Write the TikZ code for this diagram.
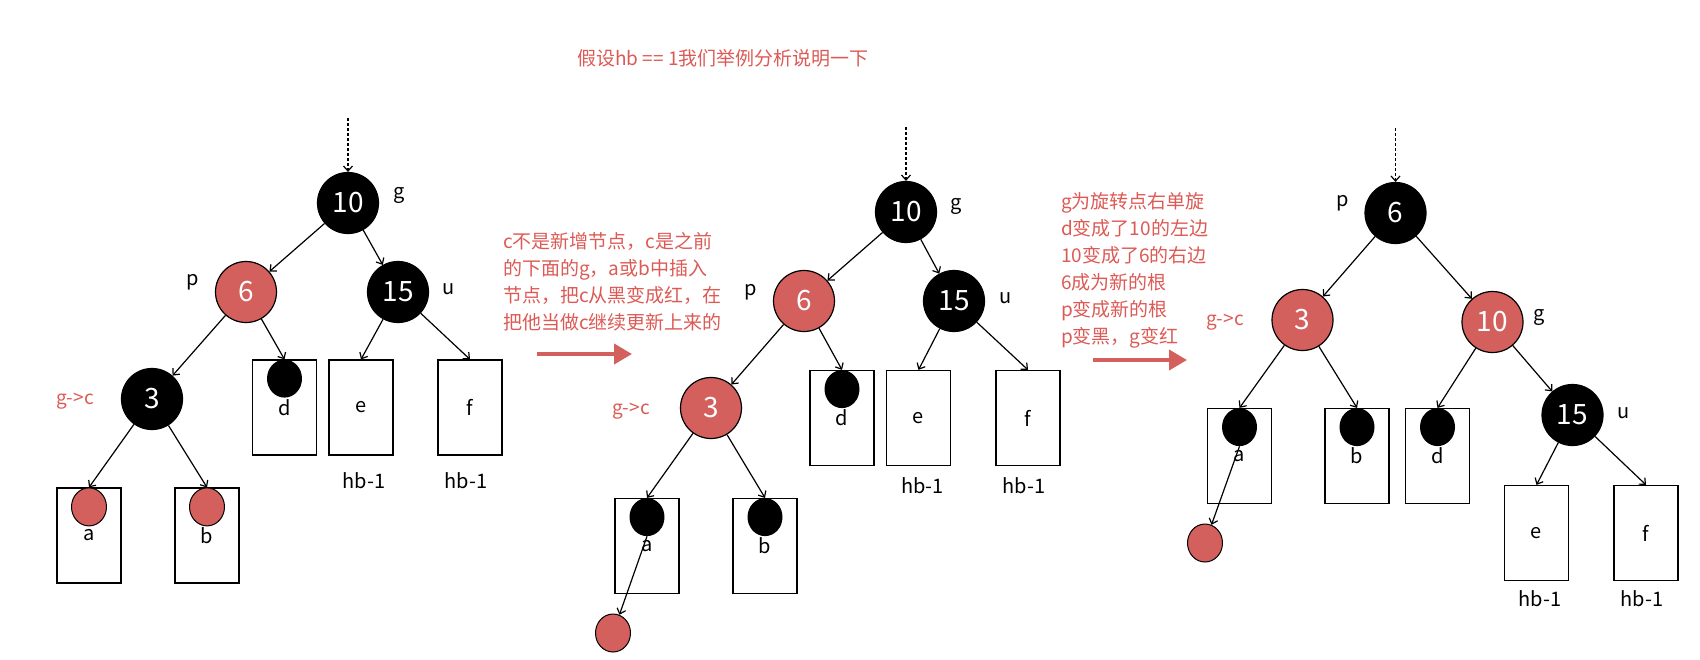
\documentclass[tikz,border=0pt]{standalone}
\usepackage{fontspec}
\setmainfont{Noto Sans CJK SC}
\usepackage{tikz}
\usetikzlibrary{calc,arrows.meta,positioning,shapes.geometric}
\definecolor{rbred}{HTML}{D4605E}
\definecolor{txtred}{HTML}{DC5A55}
\tikzset{
  ar/.style={-{Straight Barb[length=5pt,width=9pt]},line width=1.2pt},
  entry/.style={ar,dash pattern=on 2.5pt off 2.5pt},
  bnode/.style={circle,draw=black,line width=1.2pt,fill=black,text=white,minimum size=61pt,inner sep=0pt,font=\fontsize{28}{28}\selectfont},
  rnode/.style={bnode,fill=rbred},
  leaf/.style={draw,line width=1.2pt,minimum width=64pt,minimum height=95pt,inner sep=0pt,font=\fontsize{20}{20}\selectfont},
  bdot/.style={ellipse,fill=black,minimum width=35pt,minimum height=38pt,inner sep=0pt,anchor=north},
  rdot/.style={ellipse,draw,line width=1pt,fill=rbred,minimum width=35pt,minimum height=38pt,inner sep=0pt},
  tag/.style={font=\fontsize{20}{20}\selectfont},
  redtag/.style={tag,text=txtred,font=\fontsize{19}{19}\selectfont},
  note/.style={text=txtred,font=\fontsize{19}{27}\selectfont,align=left,anchor=north west,inner sep=0pt},
  big/.style={-{Triangle[length=18pt,width=20pt]},line width=4pt,rbred}
}
\begin{document}
\begin{tikzpicture}[x=1pt,y=-1pt]
\useasboundingbox (0,0) rectangle (1700,659);
\node[text=txtred,font=\fontsize{19}{19}\selectfont] (title) at (723,58) {假设hb == 1我们举例分析说明一下};

% before
\coordinate (top1) at (348,118);
\node[bnode] (g1) at (348,203) {10};
\node[rnode] (p1) at (246,292) {6};
\node[bnode] (u1) at (398,292) {15};
\node[bnode] (c1) at (152,399) {3};
\node[leaf] (ld1) at (284.5,407.5) {d};
\node[leaf] (le1) at (361,407.5) {e};
\node[leaf] (lf1) at (470,407.5) {f};
\node[leaf] (la1) at (89,535.5) {a};
\node[leaf] (lb1) at (207,535.5) {b};
\node[bdot] (dd1) at (ld1.north) {};
\node[rdot,anchor=north] (da1) at (la1.north) {};
\node[rdot,anchor=north] (db1) at (lb1.north) {};
\node[tag] (h1) at ($(le1.south)+(3,25)$) {hb-1};
\node[tag] (h2) at ($(lf1.south)+(-4,25)$) {hb-1};
\node[tag] at (399,195) {g};
\node[tag] at (193,282) {p};
\node[tag] at (449,289) {u};
\node[redtag] at (75,401) {g->c};
\draw[entry] (top1) -- (g1);
\draw[ar] (g1) -- (p1);
\draw[ar] (g1) -- (u1);
\draw[ar] (p1) -- (c1);
\draw[ar] (p1) -- (ld1.north);
\draw[ar] (u1) -- (le1.north);
\draw[ar] (u1) -- (lf1.north);
\draw[ar] (c1) -- (la1.north);
\draw[ar] (c1) -- (lb1.north);

\node[note] (n1) at (503,232) {c不是新增节点，c是之前\\的下面的g，a或b中插入\\节点，把c从黑变成红，在\\把他当做c继续更新上来的};
\coordinate (s1) at (537,354);
\coordinate (t1) at (632,354);
\draw[big] (s1) -- (t1);

% recolour
\coordinate (top2) at (906,127);
\node[bnode] (g2) at (906,212) {10};
\node[rnode] (p2) at (804,301) {6};
\node[bnode] (u2) at (954,301) {15};
\node[rnode] (c2) at (711,408) {3};
\node[leaf] (ld2) at (842,418) {d};
\node[leaf] (le2) at (918.5,418) {e};
\node[leaf] (lf2) at (1028,418) {f};
\node[leaf] (la2) at (647,546) {a};
\node[leaf] (lb2) at (765,546) {b};
\node[bdot] (dd2) at (ld2.north) {};
\node[bdot] (da2) at (la2.north) {};
\node[bdot] (db2) at (lb2.north) {};
\node[rdot] (x2) at (613,633) {};
\node[tag] (h3) at ($(le2.south)+(4,20)$) {hb-1};
\node[tag] (h4) at ($(lf2.south)+(-4,20)$) {hb-1};
\node[tag] at (956,206) {g};
\node[tag] at (751,292) {p};
\node[tag] at (1006,298) {u};
\node[redtag] at (631,411) {g->c};
\draw[entry] (top2) -- (g2);
\draw[ar] (g2) -- (p2);
\draw[ar] (g2) -- (u2);
\draw[ar] (p2) -- (c2);
\draw[ar] (p2) -- (ld2.north);
\draw[ar] (u2) -- (le2.north);
\draw[ar] (u2) -- (lf2.north);
\draw[ar] (c2) -- (la2.north);
\draw[ar] (c2) -- (lb2.north);
\draw[ar] (da2.south) -- (x2);

\node[note] (n2) at (1061,192) {g为旋转点右单旋\\d变成了10的左边\\10变成了6的右边\\6成为新的根\\p变成新的根\\p变黑，g变红};
\coordinate (s2) at (1093,360);
\coordinate (t2) at (1187,360);
\draw[big] (s2) -- (t2);

% after rotation
\coordinate (top3) at (1395.5,128);
\node[bnode] (p3) at (1395.5,213) {6};
\node[rnode] (c3) at (1302.5,320) {3};
\node[rnode] (g3) at (1492.5,322) {10};
\node[bnode] (u3) at (1572.5,415) {15};
\node[leaf] (la3) at (1239.5,456) {a};
\node[leaf] (lb3) at (1357,456) {b};
\node[leaf] (ld3) at (1437.5,456) {d};
\node[leaf] (le3) at (1536.5,533) {e};
\node[leaf] (lf3) at (1646,533) {f};
\node[bdot] (da3) at (la3.north) {};
\node[bdot] (db3) at (lb3.north) {};
\node[bdot] (dd3) at (ld3.north) {};
\node[rdot] (x3) at (1205,543) {};
\node[tag] (h5) at ($(le3.south)+(3.5,18)$) {hb-1};
\node[tag] (h6) at ($(lf3.south)+(-4,18)$) {hb-1};
\node[tag] at (1343,203) {p};
\node[tag] at (1539,317) {g};
\node[tag] at (1624,413) {u};
\node[redtag] at (1225,322) {g->c};
\draw[entry] (top3) -- (p3);
\draw[ar] (p3) -- (c3);
\draw[ar] (p3) -- (g3);
\draw[ar] (c3) -- (la3.north);
\draw[ar] (c3) -- (lb3.north);
\draw[ar] (g3) -- (ld3.north);
\draw[ar] (g3) -- (u3);
\draw[ar] (u3) -- (le3.north);
\draw[ar] (u3) -- (lf3.north);
\draw[ar] (da3.south) -- (x3);
\end{tikzpicture}
\end{document}
